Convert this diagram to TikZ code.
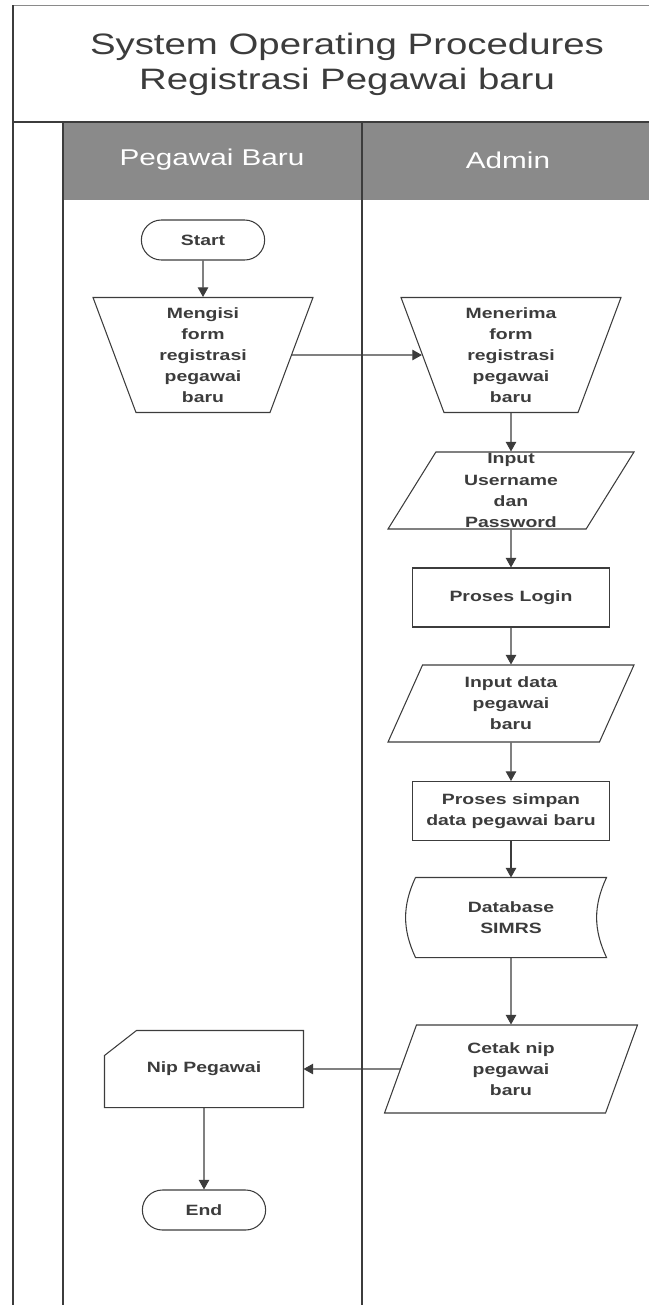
\documentclass[tikz,border=0pt]{standalone}
\usepackage{fontspec}
\setmainfont{Liberation Sans}[FakeStretch=1.3]
\usetikzlibrary{shapes.geometric, shapes.misc, arrows.meta}
\definecolor{lanegray}{RGB}{138, 138, 138}
\definecolor{inkgray}{RGB}{60, 60, 60}

\begin{document}
\begin{tikzpicture}[
    x=0.02cm, y=-0.02cm,
    chart/.style={
      draw=inkgray, line width=0.6pt, align=center, text=inkgray,
      font=\fontsize{8.5}{12}\selectfont\bfseries
    },
    terminal/.style={
      chart, rounded rectangle, minimum width=2.7cm, minimum height=0.8cm
    },
    manual/.style={
      chart, trapezium, shape border rotate=180,
      trapezium left angle=66.5, trapezium right angle=66.5,
      trapezium stretches body, minimum width=4.4cm,
      minimum height=2.3cm, inner sep=1pt
    },
    io/.style={
      chart, trapezium, trapezium left angle=57, trapezium right angle=123,
      trapezium stretches body, minimum width=4.92cm,
      minimum height=1.54cm, inner xsep=2pt, inner ysep=0pt
    },
    process/.style={
      chart, rectangle, minimum width=3.94cm, minimum height=1.18cm
    },
    plain/.style={chart, draw=none},
    flow/.style={-{Triangle[length=5.5pt, width=6pt]}, inkgray, line width=0.6pt},
    lane/.style={draw=inkgray, line width=0.7pt},
]
    \useasboundingbox (0,0) rectangle (649,1305);

    % Title and swimlanes
    \draw[inkgray!60, line width=0.5pt] (13,5) -- (649,5);
    \fill[lanegray] (63,123) rectangle (649,200);
    \draw[lane] (13,5) -- (13,1305);
    \draw[lane, line width=1.2pt] (13,122) -- (649,122);
    \draw[lane] (63,122) -- (63,1305);
    \draw[lane] (362,122) -- (362,1305);

    \node[font=\fontsize{16.8}{20}\selectfont, text=inkgray, align=center]
      (title) at (347,64) {System Operating Procedures\\Registrasi Pegawai baru};
    \node[font=\fontsize{13}{15}\selectfont, text=white] (lanepb) at (212,160) {Pegawai Baru};
    \node[font=\fontsize{13}{15}\selectfont, text=white] (lanead) at (508,160) {Admin};

    % Pegawai Baru
    \node[terminal] (start) at (203,240) {Start};
    \node[manual] (mengisi) at (203,355) {Mengisi\\form\\registrasi\\pegawai\\baru};

    % Admin
    \node[manual] (menerima) at (511,355) {Menerima\\form\\registrasi\\pegawai\\baru};
    \node[io] (username) at (511,490.5) {Input\\Username\\dan\\Password};
    \node[process] (login) at (511,597.5) {Proses Login};
    \node[io] (datainput) at (511,703.5) {Input data\\pegawai\\baru};
    \node[process] (simpan) at (511,811) {Proses simpan\\data pegawai baru};
    \node[plain, minimum width=3.8cm, minimum height=1.58cm] (db) at (511,917.5) {Database\\SIMRS};
    \draw[chart] (db.north west) -- (db.north east) to[bend right=25] (db.south east)
      -- (db.south west) to[bend left=25] (db.north west);
    \node[io, trapezium left angle=59, trapezium right angle=121,
      minimum width=5.06cm, minimum height=1.76cm] (cetak) at (511,1069) {Cetak nip\\pegawai\\baru};

    % Output
    \node[plain, minimum width=3.96cm, minimum height=1.52cm] (nip) at (204,1069) {Nip Pegawai};
    \draw[chart] (nip.north east) -- ([xshift=0.64cm]nip.north west)
      -- ([yshift=-0.5cm]nip.north west) -- (nip.south west) -- (nip.south east) -- cycle;
    \node[terminal] (finish) at (204,1210) {End};

    \draw[flow] (start) -- (mengisi);
    \draw[flow] (mengisi) -- (menerima);
    \draw[flow] (menerima) -- (username);
    \draw[flow] (username) -- (login);
    \draw[flow] (login) -- (datainput);
    \draw[flow] (datainput) -- (simpan);
    \draw[flow] (simpan) -- (db);
    \draw[flow] (db) -- (cetak);
    \draw[flow] (cetak) -- (nip);
    \draw[flow] (nip) -- (finish);
\end{tikzpicture}
\end{document}
